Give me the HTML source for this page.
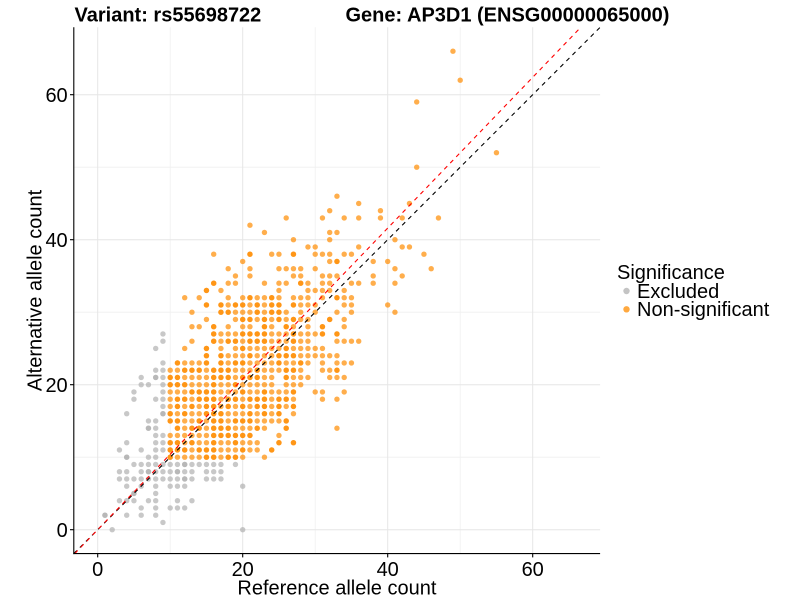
<!DOCTYPE html>
<html>
<head>
<meta charset="utf-8">
<style>
html,body{margin:0;padding:0;background:#fff;width:800px;height:600px;overflow:hidden}
svg text{font-family:"Liberation Sans",Arial,Helvetica,sans-serif;fill:#000}
</style>
</head>
<body>
<svg id="s" width="800" height="600" viewBox="0 0 800 600" xmlns="http://www.w3.org/2000/svg">
<rect x="0" y="0" width="800" height="600" fill="#fff"/>
<!-- minor grid -->
<g stroke="#efefef" stroke-width="0.8" fill="none">
<line x1="170.2" y1="27.3" x2="170.2" y2="553.6"/>
<line x1="315.2" y1="27.3" x2="315.2" y2="553.6"/>
<line x1="460.2" y1="27.3" x2="460.2" y2="553.6"/>
<line x1="73.8" y1="457.2" x2="600.1" y2="457.2"/>
<line x1="73.8" y1="312.2" x2="600.1" y2="312.2"/>
<line x1="73.8" y1="167.2" x2="600.1" y2="167.2"/>
</g>
<!-- major grid -->
<g stroke="#e6e6e6" stroke-width="1" fill="none">
<line x1="97.7" y1="27.3" x2="97.7" y2="553.6"/>
<line x1="242.7" y1="27.3" x2="242.7" y2="553.6"/>
<line x1="387.7" y1="27.3" x2="387.7" y2="553.6"/>
<line x1="532.7" y1="27.3" x2="532.7" y2="553.6"/>
<line x1="73.8" y1="529.7" x2="600.1" y2="529.7"/>
<line x1="73.8" y1="384.7" x2="600.1" y2="384.7"/>
<line x1="73.8" y1="239.7" x2="600.1" y2="239.7"/>
<line x1="73.8" y1="94.7" x2="600.1" y2="94.7"/>
</g>
<g id="pts"></g>
<!-- reference lines -->
<line x1="73.8" y1="553.6" x2="600.1" y2="27.3" stroke="#000" stroke-width="1.1" stroke-dasharray="4.3 4.3"/>
<line x1="74.7" y1="553.6" x2="580.8" y2="27.3" stroke="#ff0000" stroke-width="1.1" stroke-dasharray="4.3 4.3"/>
<!-- axes -->
<g stroke="#000" stroke-width="1.1" fill="none">
<line x1="73.8" y1="27.3" x2="73.8" y2="554.1"/>
<line x1="73.3" y1="553.6" x2="600.1" y2="553.6"/>
<line x1="70" y1="529.7" x2="73.8" y2="529.7"/>
<line x1="70" y1="384.7" x2="73.8" y2="384.7"/>
<line x1="70" y1="239.7" x2="73.8" y2="239.7"/>
<line x1="70" y1="94.7" x2="73.8" y2="94.7"/>
<line x1="97.7" y1="553.6" x2="97.7" y2="557.4"/>
<line x1="242.7" y1="553.6" x2="242.7" y2="557.4"/>
<line x1="387.7" y1="553.6" x2="387.7" y2="557.4"/>
<line x1="532.7" y1="553.6" x2="532.7" y2="557.4"/>
</g>
<!-- tick labels -->
<g font-size="20" text-anchor="end">
<text x="67.7" y="536.9">0</text>
<text x="67.7" y="391.9">20</text>
<text x="67.7" y="246.9">40</text>
<text x="67.7" y="101.9">60</text>
</g>
<g font-size="20" text-anchor="middle">
<text x="97.7" y="576">0</text>
<text x="242.7" y="576">20</text>
<text x="387.7" y="576">40</text>
<text x="532.7" y="576">60</text>
</g>
<!-- axis titles -->
<text x="336.9" y="594.3" font-size="20" text-anchor="middle">Reference allele count</text>
<text transform="translate(41.3,290.5) rotate(-90)" font-size="20" text-anchor="middle">Alternative allele count</text>
<!-- title -->
<text x="74.5" y="21.7" font-size="20" font-weight="bold">Variant: rs55698722</text>
<text x="345.5" y="21.7" font-size="20" font-weight="bold">Gene: AP3D1 (ENSG00000065000)</text>
<!-- legend -->
<text x="617" y="279" font-size="20">Significance</text>
<circle cx="626.5" cy="291" r="3.2" fill="#b0b0b0" fill-opacity="0.75"/>
<circle cx="626.5" cy="309.3" r="3.2" fill="#ff8c00" fill-opacity="0.75"/>
<text x="637" y="298" font-size="20">Excluded</text>
<text x="637" y="316" font-size="20">Non-significant</text>
</svg>
<script>
(function(){
var O={
10:"10-20,23",11:"10-22,24",12:"10-22,25,27",13:"10-21,25",14:"11-23,26,33",
15:"10-26",16:"10-25,27",17:"10-27",18:"10-27,31,33",19:"10-27,30,31,34",
20:"10-24,26-28",21:"10-24,26-29,32-34",22:"10-28,31-33",23:"11-15,17-29,31,33-35",
24:"15,17-33",25:"12,15,17,19-31",26:"13,16-29,33-36",27:"16-31,33",
28:"13,14,16,18,20,21,23,24,26,27,29,31,34",29:"15,19-29,32,34",
30:"13,17-26,28,30,33,35,41",31:"15,17-25,27-30,34,35,40",
32:"12,14,18,20-25,27-29,31,33-35",33:"15,17,25,29-32,34",
34:"16,18,19,23,25,26,28,29,31,32,35,36,38,41",35:"19,21,27,28,31-33,38,42",
36:"18,21,25-28,30,41,46",37:"20,32,33,38,40",38:"16,21,24,25,27,30-32,34,35,45",
39:"29,30,36,42,43",40:"27,32,41",41:"23,32,33",42:"21",43:"26,31,34,36,39,42,47",
44:"32,39",45:"36,43",46:"33",50:"44",52:"55",59:"44",62:"50",66:"49"};
var G={
0:"2,20",1:"9",2:"1,4,6,8",3:"6,8,10-12",4:"3-5,7,8,11,13",5:"5,8",
6:"4,6,8,10-12,20",7:"3-13,15-17",8:"3,4,6-13,15-17",9:"5-17,19",
10:"4,7,8",11:"3,6,8,9",12:"4,8,9",13:"8,9",14:"7,8",15:"7,8",16:"4,9",
17:"9",18:"5,8,9",19:"5,9",20:"6,7,9",21:"6,8,9",22:"8,9",23:"9",25:"8",26:"9",27:"9"};
function parse(s){var out=[];s.split(",").forEach(function(p){if(p.indexOf("-")>0){var a=+p.split("-")[0],b=+p.split("-")[1];for(var i=a;i<=b;i++)out.push(i);}else out.push(+p);});return out;}
var NS="http://www.w3.org/2000/svg";
var g=document.getElementById("pts");
function dot(x,y,col,op){var c=document.createElementNS(NS,"circle");c.setAttribute("cx",(97.7+7.25*x).toFixed(2));c.setAttribute("cy",(529.7-7.25*y).toFixed(2));c.setAttribute("r","2.7");c.setAttribute("fill",col);c.setAttribute("fill-opacity",op);g.appendChild(c);}
function h(x,y){return (x*37+y*91+x*y*13+ (x*x)%7*11)%100;}
Object.keys(G).forEach(function(k){var y=+k;parse(G[k]).forEach(function(x){dot(x,y,"#b0b0b0","0.7");var p=(x>=7&&x<=12&&y>=7&&y<=9)?30:12;if(x==1&&y==2)p=100;if(h(x,y)<p)dot(x,y,"#b0b0b0","0.7");});});
Object.keys(O).forEach(function(k){var y=+k;parse(O[k]).forEach(function(x){dot(x,y,"#ff8c00","0.7");var p=0;if(x<=27&&y<=32)p=45;else if(x<=36&&y<=38)p=10;if(h(x,y)<p)dot(x,y,"#ff8c00","0.7");});});
})();
</script>
</body>
</html>
